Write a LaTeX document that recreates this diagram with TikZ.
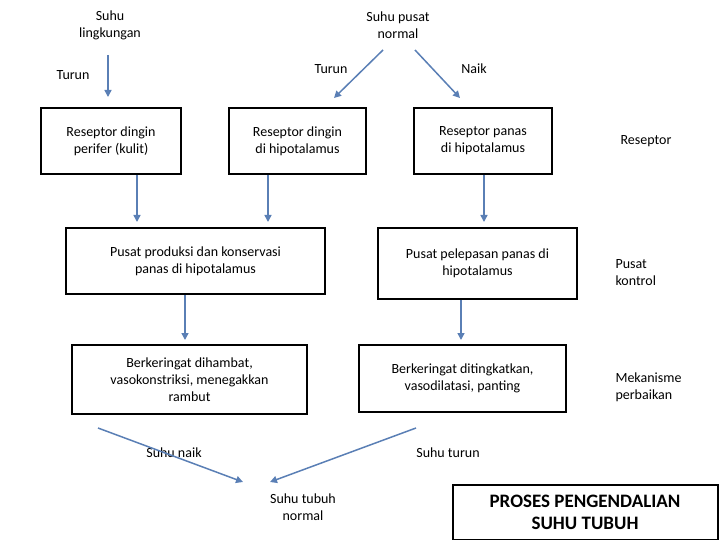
\documentclass[tikz,border=0pt]{standalone}
\usepackage{fontspec}
\setmainfont{Carlito}
\usetikzlibrary{arrows.meta}
\definecolor{arr}{HTML}{5A7FB5}
\begin{document}
\begin{tikzpicture}[x=1pt,y=-1pt,
 box/.style={draw,line width=2pt,align=center,inner sep=0pt},
 lbl/.style={align=center,font=\fontsize{14}{17}\selectfont},
 lbll/.style={align=left,anchor=west,font=\fontsize{14}{17}\selectfont},
 ar/.style={draw=arr,line width=1.5pt,-{Triangle[length=7pt,width=7pt]}},
 every node/.style={font=\fontsize{14}{17}\selectfont}]
\useasboundingbox (0,0) rectangle (720,540);
\node[box,minimum width=140,minimum height=66] (b1) at (111,141) {Reseptor dingin\\perifer (kulit)};
\node[box,minimum width=137,minimum height=66] (b2) at (297.5,141) {Reseptor dingin\\di hipotalamus};
\node[box,minimum width=138,minimum height=66] (b3) at (483,141) {Reseptor panas\\di hipotalamus};
\node[box,minimum width=259,minimum height=66] (b4) at (195.5,261) {Pusat produksi dan konservasi\\panas di hipotalamus};
\node[box,minimum width=199,minimum height=71] (b5) at (477.5,263.5) {Pusat pelepasan panas di\\hipotalamus};
\node[box,minimum width=235,minimum height=69] (b6) at (189.5,379.5) {Berkeringat dihambat,\\vasokonstriksi, menegakkan\\rambut};
\node[box,minimum width=207,minimum height=67] (b7) at (462.5,378.5) {Berkeringat ditingkatkan,\\vasodilatasi, panting};
\node[box,minimum width=265,minimum height=55,font=\fontsize{19}{22}\selectfont\bfseries] (b8) at (585,512.5) {PROSES PENGENDALIAN\\SUHU TUBUH};
\node[lbl] (sl) at (110,25) {Suhu\\lingkungan};
\node[lbl] (sp) at (398,25) {Suhu pusat\\normal};
\node[lbl] (t1) at (73,75) {Turun};
\node[lbl] (t2) at (331,69) {Turun};
\node[lbl] (n1) at (474,69) {Naik};
\node[lbl] (r) at (646,141) {Reseptor};
\node[lbll] (pk) at (612,273) {Pusat\\kontrol};
\node[lbll] (mp) at (612,387) {Mekanisme\\perbaikan};
\node[lbl] (sn) at (174,453) {Suhu naik};
\node[lbl] (st) at (448,453) {Suhu turun};
\node[lbl] (stn) at (303,507) {Suhu tubuh\\normal};
\coordinate (a1) at (108,55); \coordinate (a2) at (108,97);
\draw[ar] (a1) -- (a2);
\coordinate (s1) at (383,50); \coordinate (s2) at (415,50);
\coordinate (s1e) at (334,98); \coordinate (s2e) at (460,98);
\draw[ar] (s1) -- (s1e);
\draw[ar] (s2) -- (s2e);
\draw[ar] (b1.south -| 137,0) -- (137,222);
\draw[ar] (b2.south -| 268,0) -- (268,222);
\draw[ar] (b3.south -| 484,0) -- (484,222);
\draw[ar] (b4.south -| 185,0) -- (185,340);
\draw[ar] (b5.south -| 461,0) -- (461,340);
\coordinate (l1) at (98,428); \coordinate (l2) at (243,482);
\coordinate (r1) at (416,428); \coordinate (r2) at (270,482);
\draw[ar] (l1) -- (l2);
\draw[ar] (r1) -- (r2);
\end{tikzpicture}
\end{document}
